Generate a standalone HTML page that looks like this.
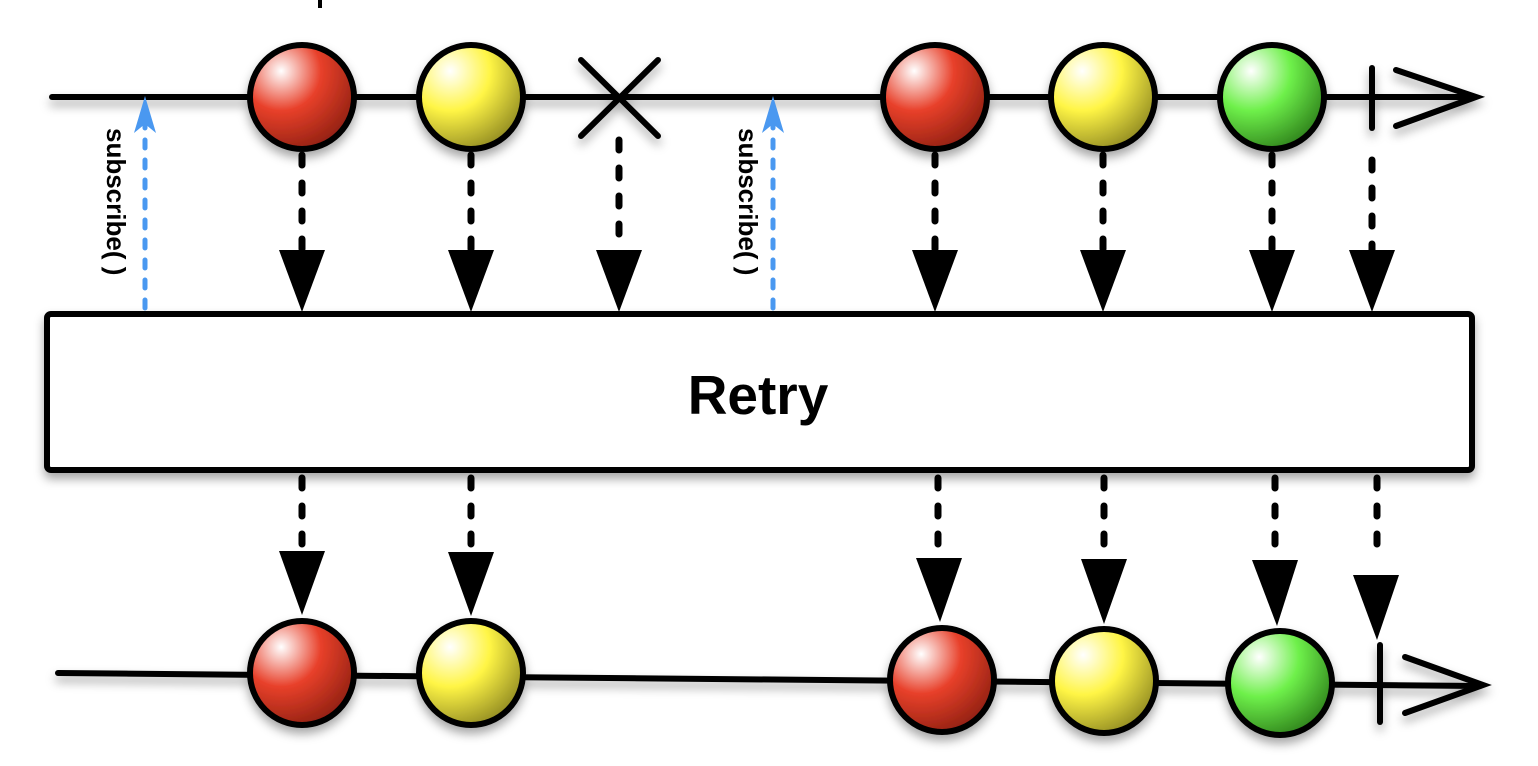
<!DOCTYPE html>
<html><head><style>html,body{margin:0;padding:0;background:#fff}svg{display:block}</style></head>
<body>
<svg width="1538" height="766" viewBox="0 0 1538 766" xmlns="http://www.w3.org/2000/svg">
<defs>
<radialGradient id="r" cx="0.3" cy="0.25" r="0.85"><stop offset="0" stop-color="#fff"/><stop offset="0.45" stop-color="#e8402a"/><stop offset="1" stop-color="#8a1e10"/></radialGradient>
<radialGradient id="y" cx="0.3" cy="0.25" r="0.85"><stop offset="0" stop-color="#fff"/><stop offset="0.45" stop-color="#fff545"/><stop offset="1" stop-color="#8a8420"/></radialGradient>
<radialGradient id="g" cx="0.3" cy="0.25" r="0.85"><stop offset="0" stop-color="#fff"/><stop offset="0.45" stop-color="#6ef04a"/><stop offset="1" stop-color="#2a7a18"/></radialGradient>
<filter id="s" x="-20%" y="-20%" width="140%" height="160%"><feDropShadow dx="0" dy="6" stdDeviation="5" flood-opacity="0.35"/></filter>
</defs>
<line x1="320" y1="0" x2="320" y2="8" stroke="#000" stroke-width="4"/>
<g filter="url(#s)" stroke="#000" stroke-linecap="round">
<line x1="52" y1="97" x2="1475" y2="97" stroke-width="6"/>
<polyline points="1396,70 1476,97 1396,126" fill="none" stroke-width="6"/>
<line x1="1372" y1="68" x2="1372" y2="128" stroke-width="6"/>
<line x1="581" y1="60" x2="658" y2="136" stroke-width="6"/>
<line x1="658" y1="60" x2="581" y2="136" stroke-width="6"/>
<ellipse cx="302" cy="97" rx="52" ry="52" fill="url(#r)" stroke-width="6"/>
<ellipse cx="471" cy="97" rx="52" ry="52" fill="url(#y)" stroke-width="6"/>
<ellipse cx="935" cy="97" rx="52" ry="52" fill="url(#r)" stroke-width="6"/>
<ellipse cx="1103" cy="97" rx="52" ry="52" fill="url(#y)" stroke-width="6"/>
<ellipse cx="1272" cy="97" rx="52" ry="52" fill="url(#g)" stroke-width="6"/>
<rect x="47" y="314" width="1425" height="156" rx="4" fill="#fff" stroke-width="6"/>
<line x1="58" y1="673" x2="1480" y2="686" stroke-width="6"/>
<polyline points="1405,657 1483,685 1405,713" fill="none" stroke-width="6"/>
<line x1="1380" y1="645" x2="1380" y2="722" stroke-width="6"/>
<ellipse cx="302" cy="673" rx="52" ry="52" fill="url(#r)" stroke-width="6"/>
<ellipse cx="471" cy="673" rx="52" ry="52" fill="url(#y)" stroke-width="6"/>
<ellipse cx="942" cy="680" rx="52" ry="52" fill="url(#r)" stroke-width="6"/>
<ellipse cx="1104" cy="681" rx="52" ry="52" fill="url(#y)" stroke-width="6"/>
<ellipse cx="1280" cy="683" rx="52" ry="52" fill="url(#g)" stroke-width="6"/>
</g>
<text x="758" y="414" font-family="Liberation Sans, sans-serif" font-weight="bold" font-size="55" text-anchor="middle">Retry</text>
<g stroke="#000" stroke-width="7" stroke-linecap="round" stroke-dasharray="10,18" fill="none">
<line x1="302" y1="155" x2="302" y2="250"/><line x1="471" y1="155" x2="471" y2="250"/>
<line x1="619" y1="140" x2="619" y2="250"/><line x1="935" y1="155" x2="935" y2="250"/>
<line x1="1103" y1="155" x2="1103" y2="250"/><line x1="1272" y1="155" x2="1272" y2="250"/>
<line x1="1372" y1="160" x2="1372" y2="250"/>
<line x1="302" y1="478" x2="302" y2="548"/><line x1="471" y1="478" x2="471" y2="548"/>
<line x1="938" y1="478" x2="938" y2="548"/><line x1="1104" y1="478" x2="1104" y2="548"/>
<line x1="1275" y1="478" x2="1275" y2="548"/><line x1="1377" y1="478" x2="1377" y2="548"/>
</g>
<g fill="#000">
<polygon points="279,250 325,250 302,312"/><polygon points="448,250 494,250 471,312"/>
<polygon points="596,250 642,250 619,312"/><polygon points="912,250 958,250 935,312"/>
<polygon points="1080,250 1126,250 1103,312"/><polygon points="1249,250 1295,250 1272,312"/>
<polygon points="1349,250 1395,250 1372,312"/>
<polygon points="279,551 325,551 302,615"/><polygon points="448,552 494,552 471,616"/>
<polygon points="916,558 962,558 940,622"/><polygon points="1081,559 1127,559 1104,624"/>
<polygon points="1252,560 1298,560 1277,626"/><polygon points="1353,575 1399,575 1377,640"/>
</g>
<g stroke="#4a98f0" stroke-width="5" stroke-linecap="round" fill="none">
<line x1="145" y1="308" x2="145" y2="110" stroke-dasharray="8,12"/>
<line x1="773" y1="308" x2="773" y2="110" stroke-dasharray="8,12"/>
</g>
<g fill="#4a98f0">
<polygon points="145,96 134,133 145,124 156,133"/>
<polygon points="773,96 762,133 773,124 784,133"/>
</g>
<g font-family="Liberation Sans, sans-serif" font-weight="bold" font-size="26" fill="#000">
<text transform="translate(107,128) rotate(90)">subscribe( )</text>
<text transform="translate(739,128) rotate(90)">subscribe( )</text>
</g>
</svg>
</body></html>
